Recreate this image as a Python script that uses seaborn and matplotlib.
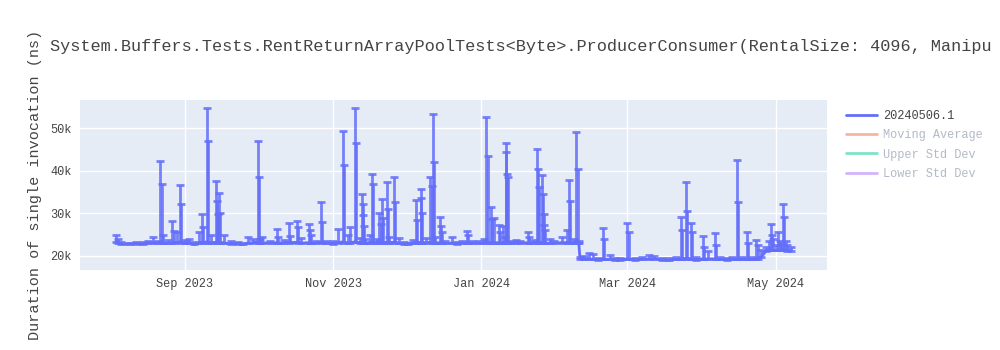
import matplotlib
matplotlib.use("Agg")
import matplotlib.pyplot as plt
import matplotlib.dates as mdates
from matplotlib.lines import Line2D
from matplotlib.ticker import FuncFormatter
import numpy as np
import pandas as pd
import seaborn as sns

# ---------------- data (values in thousands of ns) ----------------
dates = [
    "2023-08-04 00:00", "2023-08-04 12:00", "2023-08-06", "2023-08-09", "2023-08-12",
    "2023-08-15", "2023-08-17", "2023-08-19", "2023-08-21", "2023-08-22 00:00",
    "2023-08-22 12:00", "2023-08-23", "2023-08-25", "2023-08-27 00:00", "2023-08-27 12:00",
    "2023-08-29", "2023-08-30 00:00", "2023-08-30 12:00", "2023-09-01", "2023-09-03",
    "2023-09-05", "2023-09-07", "2023-09-08 00:00", "2023-09-08 12:00", "2023-09-10 00:00",
    "2023-09-10 12:00", "2023-09-12", "2023-09-14 00:00", "2023-09-14 08:00", "2023-09-14 16:00",
    "2023-09-15 00:00", "2023-09-15 12:00", "2023-09-17", "2023-09-20", "2023-09-23",
    "2023-09-25", "2023-09-27", "2023-09-29", "2023-10-01 00:00", "2023-10-01 12:00",
    "2023-10-02", "2023-10-03", "2023-10-06", "2023-10-09 00:00", "2023-10-09 12:00",
    "2023-10-12", "2023-10-14 00:00", "2023-10-14 12:00", "2023-10-17 00:00", "2023-10-17 12:00",
    "2023-10-19", "2023-10-22 00:00", "2023-10-22 12:00", "2023-10-23", "2023-10-25",
    "2023-10-27 00:00", "2023-10-27 12:00", "2023-10-29", "2023-11-01", "2023-11-03",
    "2023-11-05 00:00", "2023-11-05 12:00", "2023-11-07", "2023-11-08", "2023-11-10 00:00",
    "2023-11-10 12:00", "2023-11-12", "2023-11-13 00:00", "2023-11-13 06:00", "2023-11-13 12:00",
    "2023-11-13 18:00", "2023-11-14", "2023-11-16", "2023-11-17 00:00", "2023-11-17 12:00",
    "2023-11-19", "2023-11-20 00:00", "2023-11-20 12:00", "2023-11-21 00:00", "2023-11-21 12:00",
    "2023-11-23 00:00", "2023-11-23 12:00", "2023-11-24", "2023-11-26 00:00", "2023-11-26 12:00",
    "2023-11-28", "2023-11-30", "2023-12-02", "2023-12-04", "2023-12-05 00:00",
    "2023-12-05 12:00", "2023-12-07 00:00", "2023-12-07 08:00", "2023-12-07 16:00", "2023-12-09",
    "2023-12-11 00:00", "2023-12-11 12:00", "2023-12-12 00:00", "2023-12-12 12:00", "2023-12-13",
    "2023-12-15 00:00", "2023-12-15 08:00", "2023-12-15 16:00", "2023-12-17", "2023-12-20",
    "2023-12-22", "2023-12-24", "2023-12-26 00:00", "2023-12-26 12:00", "2023-12-28",
    "2023-12-31", "2024-01-02", "2024-01-03 00:00", "2024-01-03 12:00", "2024-01-05 00:00",
    "2024-01-05 12:00", "2024-01-06", "2024-01-08 00:00", "2024-01-08 12:00", "2024-01-10 00:00",
    "2024-01-10 12:00", "2024-01-11 00:00", "2024-01-11 06:00", "2024-01-11 12:00", "2024-01-11 18:00",
    "2024-01-13", "2024-01-15", "2024-01-17", "2024-01-20 00:00", "2024-01-20 12:00",
    "2024-01-22", "2024-01-24 00:00", "2024-01-24 08:00", "2024-01-24 16:00", "2024-01-26 00:00",
    "2024-01-26 06:00", "2024-01-26 12:00", "2024-01-26 18:00", "2024-01-27", "2024-01-29",
    "2024-01-31", "2024-02-03", "2024-02-05", "2024-02-06 00:00", "2024-02-06 12:00",
    "2024-02-08", "2024-02-09 00:00", "2024-02-09 12:00", "2024-02-10 00:00", "2024-02-10 12:00",
    "2024-02-12", "2024-02-14", "2024-02-16", "2024-02-18", "2024-02-20 00:00",
    "2024-02-20 12:00", "2024-02-23", "2024-02-25", "2024-02-27", "2024-03-01 00:00",
    "2024-03-01 12:00", "2024-03-04", "2024-03-07", "2024-03-10", "2024-03-12",
    "2024-03-15", "2024-03-18", "2024-03-21", "2024-03-23 00:00", "2024-03-23 12:00",
    "2024-03-25 00:00", "2024-03-25 12:00", "2024-03-27 00:00", "2024-03-27 12:00", "2024-03-29",
    "2024-04-01 00:00", "2024-04-01 12:00", "2024-04-03", "2024-04-06 00:00", "2024-04-06 12:00",
    "2024-04-08", "2024-04-11", "2024-04-13", "2024-04-15 00:00", "2024-04-15 12:00",
    "2024-04-17", "2024-04-19 00:00", "2024-04-19 12:00", "2024-04-21", "2024-04-23 00:00",
    "2024-04-23 12:00", "2024-04-25", "2024-04-27", "2024-04-28", "2024-04-29 00:00",
    "2024-04-29 08:00", "2024-04-29 16:00", "2024-05-01", "2024-05-02 00:00", "2024-05-02 12:00",
    "2024-05-03", "2024-05-04 00:00", "2024-05-04 12:00", "2024-05-05 00:00", "2024-05-05 12:00",
    "2024-05-07",
]

means_k = [
    23.2, 23.0, 22.8, 22.8, 22.9,
    22.8, 23.0, 23.1, 23.0, 23.2,
    23.1, 23.0, 23.0, 23.1, 23.0,
    23.2, 23.3, 23.1, 23.0, 23.0,
    22.7, 23.0, 23.2, 23.1, 23.3,
    23.1, 23.0, 23.2, 23.1, 23.0,
    23.2, 23.0, 23.0, 22.9, 22.9,
    22.7, 23.0, 23.1, 23.2, 23.1,
    23.0, 23.1, 23.0, 23.1, 23.0,
    23.0, 23.2, 23.0, 23.2, 23.1,
    23.0, 23.1, 23.0, 23.0, 23.0,
    23.2, 23.0, 23.0, 22.9, 23.1,
    23.3, 23.1, 23.0, 23.1, 23.3,
    23.2, 23.0, 23.2, 23.1, 23.0,
    23.0, 23.0, 23.1, 23.2, 23.1,
    23.0, 23.2, 23.1, 23.2, 23.0,
    23.2, 23.1, 23.0, 23.2, 23.0,
    23.0, 22.8, 22.8, 23.0, 23.1,
    23.0, 23.2, 23.1, 23.0, 23.0,
    23.2, 23.1, 23.3, 23.1, 23.0,
    23.1, 23.0, 23.0, 23.0, 23.0,
    22.9, 23.0, 23.1, 23.0, 23.0,
    23.0, 23.0, 23.2, 23.1, 23.1,
    23.0, 23.1, 23.1, 23.0, 23.1,
    23.0, 23.3, 23.2, 23.1, 23.0,
    23.0, 23.1, 23.0, 23.1, 23.0,
    23.0, 23.2, 23.1, 23.0, 23.2,
    23.1, 23.1, 23.0, 23.0, 23.0,
    23.0, 23.1, 23.1, 23.2, 23.1,
    23.0, 23.2, 23.1, 23.0, 19.3,
    19.2, 19.3, 19.2, 19.1, 19.3,
    19.2, 19.2, 19.1, 19.1, 19.3,
    19.2, 19.1, 19.2, 19.3, 19.3,
    19.1, 19.0, 19.2, 19.3, 19.2,
    19.4, 19.3, 19.3, 19.2, 19.1,
    19.3, 19.2, 19.3, 19.3, 19.2,
    19.2, 19.1, 19.2, 19.3, 19.2,
    19.2, 19.3, 19.2, 19.2, 19.3,
    19.3, 19.8, 21.2, 21.3, 21.5,
    21.4, 21.3, 21.3, 21.4, 21.3,
    21.3, 21.5, 21.4, 21.3, 21.2,
    21.2,
]

tops_k = [
    24.9, 24.0, 23.2, 23.1, 23.2,
    23.3, 23.5, 24.5, 23.6, 42.3,
    36.9, 24.9, 23.8, 28.2, 25.9,
    25.5, 36.6, 32.2, 23.8, 24.0,
    23.2, 25.5, 29.8, 26.8, 54.7,
    47.0, 25.0, 37.6, 33.0, 29.8,
    34.8, 30.0, 24.9, 23.4, 23.3,
    23.1, 24.5, 24.0, 47.0, 38.5,
    24.0, 24.5, 23.6, 26.3, 24.5,
    23.8, 27.8, 24.7, 28.2, 26.8,
    24.2, 27.5, 26.0, 25.0, 23.6,
    32.7, 28.0, 23.5, 23.4, 26.3,
    49.3, 41.3, 25.0, 26.8, 54.7,
    46.5, 24.2, 34.5, 32.2, 29.5,
    27.0, 24.0, 24.8, 39.2, 36.9,
    24.0, 30.1, 27.5, 33.4, 28.9,
    37.4, 31.0, 24.5, 38.5, 32.7,
    24.3, 23.2, 23.1, 23.8, 33.1,
    28.4, 35.7, 33.6, 30.0, 24.2,
    38.5, 36.5, 53.3, 42.0, 24.5,
    29.1, 27.0, 25.5, 23.6, 24.5,
    23.3, 23.6, 25.9, 24.8, 23.4,
    23.5, 24.0, 52.6, 43.4, 31.5,
    28.7, 28.9, 27.3, 25.5, 27.0,
    24.5, 46.5, 44.4, 39.2, 38.5,
    23.6, 23.8, 23.6, 25.6, 24.5,
    23.8, 45.1, 40.4, 36.2, 39.0,
    34.5, 29.9, 27.3, 26.0, 24.0,
    23.5, 24.5, 26.0, 37.8, 32.9,
    24.0, 49.1, 40.4, 23.5, 19.8,
    20.0, 20.7, 20.4, 19.6, 26.6,
    24.0, 20.2, 19.6, 19.5, 27.7,
    25.6, 19.6, 19.7, 20.2, 20.1,
    19.5, 19.4, 19.8, 29.1, 26.1,
    37.4, 30.5, 27.7, 25.6, 19.7,
    24.7, 22.1, 21.2, 25.4, 22.6,
    19.8, 19.6, 19.7, 42.5, 32.7,
    19.7, 25.6, 23.0, 19.8, 23.8,
    22.5, 21.5, 22.0, 23.5, 27.5,
    25.0, 24.0, 22.5, 25.6, 23.5,
    22.8, 32.2, 29.1, 23.5, 22.5,
    22.0,
]

legend_labels = ["20240506.1", "Moving Average", "Upper Std Dev", "Lower Std Dev"]
x_ticks = ["2023-09-01", "2023-11-01", "2024-01-01", "2024-03-01", "2024-05-01"]
y_ticks_k = [20, 30, 40, 50]
title = ("System.Buffers.Tests.RentReturnArrayPoolTests<Byte>.ProducerConsumer"
         "(RentalSize: 4096, Manipu")
y_label = "Duration of single invocation (ns)"

# ---------------- styling ----------------
sns.set_theme(style="darkgrid", rc={
    "axes.facecolor": "#e5ecf6",
    "grid.color": "white",
    "grid.linewidth": 1.0,
    "axes.edgecolor": "#e5ecf6",
})
plt.rcParams["font.family"] = ["Liberation Mono", "DejaVu Sans Mono", "DejaVu Sans"]

MAIN = "#636efa"
TXT = "#444444"

df = pd.DataFrame({
    "date": pd.to_datetime(dates, format="ISO8601"),
    "mean": means_k,
    "top": tops_k,
})

fig = plt.figure(figsize=(10, 3.5), dpi=100)
ax = fig.add_axes([0.08, 0.2286, 0.747, 0.4857])

sns.lineplot(data=df, x="date", y="mean", ax=ax, color=MAIN, linewidth=2,
             legend=False, errorbar=None)
ax.errorbar(df["date"], df["mean"],
            yerr=[np.zeros(len(df)), df["top"] - df["mean"]],
            fmt="none", ecolor=MAIN, elinewidth=2, capsize=3.2, capthick=2,
            alpha=0.85)

ax.set_xlim(pd.Timestamp("2023-07-20"), pd.Timestamp("2024-05-22"))
ax.set_ylim(16.7, 56.6)
ax.set_xticks(pd.to_datetime(x_ticks))
ax.xaxis.set_major_formatter(mdates.DateFormatter("%b %Y"))
ax.set_yticks(y_ticks_k)
ax.yaxis.set_major_formatter(FuncFormatter(lambda v, p: f"{v:.0f}k"))
ax.tick_params(axis="both", length=0, labelsize=8.6, labelcolor=TXT, pad=6)
ax.set_xlabel("")
ax.set_ylabel("")
for s in ax.spines.values():
    s.set_visible(False)

fig.text(0.05, 0.866, title, fontsize=12.2, color=TXT, ha="left", va="center")
fig.text(0.035, 0.471, y_label, fontsize=10.9, color=TXT, rotation=90,
         ha="center", va="center")

handles = [
    Line2D([], [], color=MAIN, lw=2),
    Line2D([], [], color="#f8b4a6", lw=2),
    Line2D([], [], color="#7fe3c8", lw=2),
    Line2D([], [], color="#d3b4fc", lw=2),
]
leg = fig.legend(handles, legend_labels, loc="upper left",
                 bbox_to_anchor=(0.841, 0.70), frameon=False,
                 fontsize=8.6, handlelength=2.6, handletextpad=0.5,
                 labelspacing=0.62, borderaxespad=0)
for i, t in enumerate(leg.get_texts()):
    t.set_color(TXT if i == 0 else "#b3bac6")

fig.savefig("out.png", dpi=100, facecolor="white")
